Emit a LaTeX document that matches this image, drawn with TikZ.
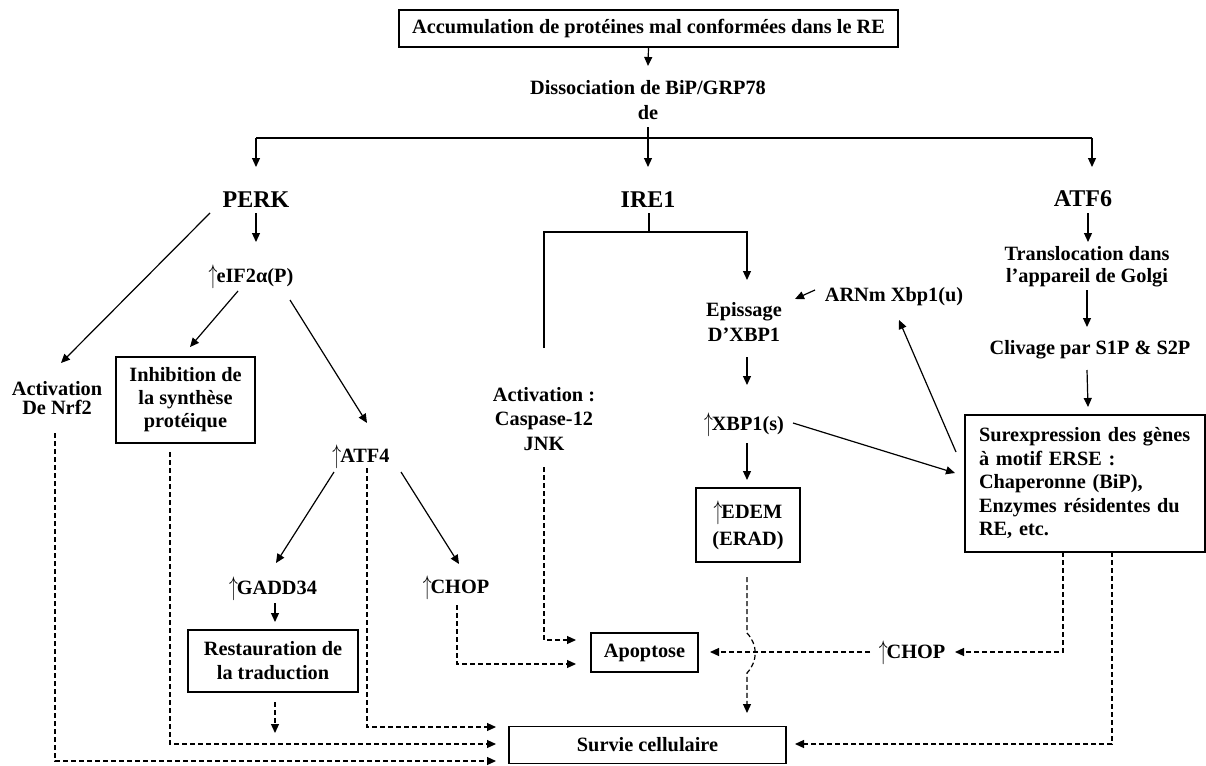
\documentclass[tikz,border=0pt]{standalone}
\usepackage{fontspec}
\usepackage{graphicx}
\setmainfont{Liberation Serif}
\usetikzlibrary{arrows.meta,calc}
\newcommand{\fsz}[1]{\fontsize{20.3}{#1}\selectfont}
\newcommand{\uparr}{\raisebox{-0.04em}{\scalebox{0.85}[1.3]{$\uparrow$}}\kern-0.05em}
\tikzset{
  txt/.style={font=\bfseries\fsz{23.5}, inner sep=0pt, align=center},
  head/.style={font=\bfseries\fontsize{24}{28}\selectfont, inner sep=0pt},
  bx/.style={txt, draw, line width=1.4pt},
  arr/.style={-{Triangle[length=9pt,width=8pt]}, line width=1.2pt},
  ln/.style={line width=1.2pt},
  dsh/.style={arr, dash pattern=on 5pt off 3pt},
}
\begin{document}
\begin{tikzpicture}[x=1pt,y=-1pt]
\useasboundingbox (0,0) rectangle (1206,765);
% nodes
\node[bx, minimum width=499pt, minimum height=37pt] (acc) at (648.5,28.5) {Accumulation de protéines mal conformées dans le RE};
\node[txt, font=\bfseries\fsz{25}] (diss) at (648,100) {Dissociation de BiP/GRP78\\de};
\node[head] (perk) at (256,200) {PERK};
\node[head] (ire) at (648,200) {IRE1};
\node[head] (atf6) at (1083,199) {ATF6};
\node[txt] (eif) at (251,277) {\uparr eIF2α(P)};
\node[txt, font=\bfseries\fsz{19}] (nrf) at (57,398) {Activation\\De Nrf2};
\node[bx, font=\bfseries\fsz{23}, minimum width=139pt, minimum height=86pt] (inh) at (185.5,400) {Inhibition de\\la synthèse\\protéique};
\node[txt] (atf4) at (361,457) {\uparr ATF4};
\node[txt, font=\bfseries\fsz{24.5}] (act) at (544,419) {Activation :\\Caspase-12\\JNK};
\node[txt, font=\bfseries\fsz{25}] (epis) at (744,322) {Epissage\\D’XBP1};
\node[txt] (arnm) at (894,297) {ARNm Xbp1(u)};
\node[txt] (xbp) at (744,425) {\uparr XBP1(s)};
\node[bx, font=\bfseries\fsz{27}, minimum width=104pt, minimum height=74pt] (edem) at (748,525) {\uparr EDEM\\(ERAD)};
\node[txt, font=\bfseries\fsz{22}] (trans) at (1087,267) {Translocation dans\\l’appareil de Golgi};
\node[txt] (cliv) at (1090,350) {Clivage par S1P \& S2P};
\node[bx, align=left, text width=212pt, inner xsep=14pt, minimum height=137pt] (sur) at (1085,483.5) {Surexpression des gènes\\à motif ERSE :\\Chaperonne (BiP),\\Enzymes résidentes du\\RE, etc.};
\node[txt] (gadd) at (273,589) {\uparr GADD34};
\node[txt] (chop1) at (456,588) {\uparr CHOP};
\node[bx, font=\bfseries\fsz{24}, minimum width=170pt, minimum height=62pt] (rest) at (273,661) {Restauration de\\la traduction};
\node[bx, minimum width=107pt, minimum height=39pt] (apo) at (644.5,652.5) {Apoptose};
\node[txt] (chop2) at (912,653) {\uparr CHOP};
\node[bx, minimum width=277pt, minimum height=37pt] (surv) at (647.5,745) {Survie cellulaire};
% top
\draw[arr] ($(acc.center)+(0,18.5)$) -- ($(diss.center)+(0,-34)$);
\coordinate (split) at (648,138);
\coordinate (sr) at (1092,138);
\draw[arr] ($(diss.center)+(0,27)$) -- ($(ire.center)+(0,-33)$);
\draw[ln] (perk.center |- split) -- (sr);
\draw[arr] (perk.center |- split) -- ($(perk.center)+(0,-33)$);
\draw[arr] (sr) -- (sr |- 0,167);
% PERK branch
\draw[arr] ($(perk.center)+(0,13)$) -- ($(perk.center)+(0,42)$);
\draw[arr] ($(perk.center)+(-46,13)$) -- ($(nrf.center)+(4,-35)$);
\draw[arr] ($(eif.center)+(-13,14)$) -- ($(inh.center)+(4.5,-53)$);
\draw[arr] ($(eif.center)+(39,23)$) -- ($(atf4.center)+(6,-34)$);
\draw[arr] ($(atf4.center)+(-27,15)$) -- ($(gadd.center)+(3,-26)$);
\draw[arr] ($(atf4.center)+(40,15)$) -- ($(chop1.center)+(3,-24)$);
\draw[arr] ($(gadd.center)+(2,14)$) -- ($(rest.center)+(2,-39)$);
% IRE1 branch
\draw[ln] ($(ire.center)+(1,13)$) -- ($(ire.center)+(1,32)$);
\draw[arr] ($(act.center)+(0,-71)$) |- ($(epis.center)+(3,-90)$) -- ($(epis.center)+(3,-42)$);
\draw[arr] ($(arnm.center)+(-79,-7)$) -- ($(epis.center)+(51,-23)$);
\draw[arr] ($(epis.center)+(3,35)$) -- ($(xbp.center)+(3,-40)$);
\draw[arr] ($(xbp.center)+(3,18)$) -- ($(edem.center)+(-1,-45)$);
\draw[arr] ($(xbp.center)+(49,-2)$) -- ($(sur.center)+(-130,-10.5)$);
\draw[arr] ($(sur.center)+(-129,-31.5)$) -- ($(arnm.center)+(5,23)$);
% ATF6 branch
\draw[arr] ($(atf6.center)+(5,14)$) -- ($(trans.center)+(1,-25)$);
\draw[arr] ($(trans.center)+(0,23)$) -- ($(cliv.center)+(-3,-23)$);
\draw[arr] ($(cliv.center)+(-3,20)$) -- ($(sur.center)+(3,-76.5)$);
% dashed
\draw[dsh] ($(nrf.center)+(-2,35)$) |- ($(surv.center)+(-151.5,16)$);
\draw[dsh] ($(inh.center)+(-15.5,52)$) |- ($(surv.center)+(-151.5,-1)$);
\draw[dsh] ($(atf4.center)+(6,11)$) |- ($(surv.center)+(-151.5,-18)$);
\draw[dsh] ($(rest.center)+(2,41)$) -- ($(rest.center)+(2,72)$);
\draw[dsh] ($(act.center)+(0,48)$) |- ($(apo.center)+(-68.5,-12.5)$);
\draw[dsh] ($(chop1.center)+(1,17)$) |- ($(apo.center)+(-68.5,11.5)$);
\draw[dsh] ($(edem.center)+(-1,52)$) -- ($(edem.center)+(-1,108)$)
  .. controls ($(edem.center)+(10,120)$) and ($(edem.center)+(10,136)$) .. ($(edem.center)+(-1,148)$)
  -- ($(surv.center)+(99.5,-32)$);
\draw[dsh] ($(sur.center)+(-22,68.5)$) |- ($(chop2.center)+(43,-1)$);
\draw[dsh] ($(chop2.center)+(-42,-1)$) -- ($(apo.center)+(65.5,-0.5)$);
\draw[dsh] ($(sur.center)+(27,68.5)$) |- ($(surv.center)+(147.5,-1)$);
\end{tikzpicture}
\end{document}
